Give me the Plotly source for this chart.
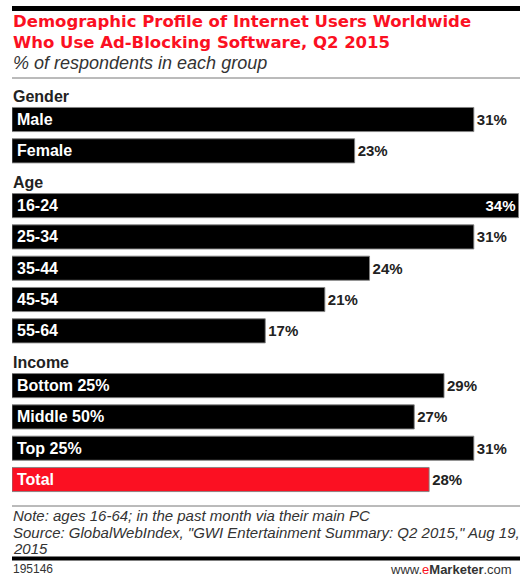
import plotly.graph_objects as go

# ---- data ----
groups = ["Gender", "Age", "Income", None]
group_items = [
    ["Male", "Female"],
    ["16-24", "25-34", "35-44", "45-54", "55-64"],
    ["Bottom 25%", "Middle 50%", "Top 25%"],
    ["Total"],
]
group_values = [
    [31, 23],
    [34, 31, 24, 21, 17],
    [29, 27, 31],
    [28],
]

title_line1 = "Demographic Profile of Internet Users Worldwide"
title_line2 = "Who Use Ad-Blocking Software, Q2 2015"
subtitle = "% of respondents in each group"
note = "Note: ages 16-64; in the past month via their main PC"
source1 = "Source: GlobalWebIndex, \"GWI Entertainment Summary: Q2 2015,\" Aug 19,"
source2 = "2015"
chart_id = "195146"

RED = "#fb1022"
DARK = "#222222"

# ---- layout of rows ----
labels, values, ypos, colors = [], [], [], []
headers = []
pos = 0.0
for gi, (g, items, vals) in enumerate(zip(groups, group_items, group_values)):
    if g is not None:
        if gi > 0:
            pos += 1.0
        headers.append((g, pos))
        pos += 0.75
    else:
        pos += 1.0
    for k, (it, v) in enumerate(zip(items, vals)):
        if k > 0:
            pos += 1.0
        labels.append(it)
        values.append(v)
        ypos.append(pos)
        colors.append(RED if g is None else "#000000")

vmax = max(values)
textpos = ["inside" if v >= vmax else "outside" for v in values]

W, H = 527, 577
L, R, T, B = 12, 7, 71, 74
plot_h = H - T - B
y_lo, y_hi = -0.8, 13.0


def py(p):
    return (H - B - p) / plot_h


LS = "Liberation Sans, Arial, sans-serif"
fig = go.Figure()
fig.add_trace(go.Bar(
    x=values, y=ypos, orientation="h",
    marker=dict(color=colors, line=dict(color="rgba(130,130,130,0.9)", width=1)),
    width=0.77,
    text=[f"{v}%" for v in values],
    textposition=textpos,
    insidetextanchor="end",
    insidetextfont=dict(family=LS, size=15, color="white", weight="bold"),
    outsidetextfont=dict(family=LS, size=15, color=DARK, weight="bold"),
    cliponaxis=False,
    hoverinfo="skip",
))

ann = []
for lab, y in zip(labels, ypos):
    ann.append(dict(x=0, y=y, xref="x", yref="y", text=lab, showarrow=False,
                    xanchor="left", yanchor="middle", xshift=3,
                    font=dict(family=LS, size=16, color="white", weight="bold")))
for g, y in headers:
    ann.append(dict(x=0, y=y, xref="x", yref="y", text=g, showarrow=False,
                    xanchor="left", yanchor="middle", xshift=-1,
                    font=dict(family=LS, size=16, color=DARK, weight="bold")))

ann += [
    dict(x=0, y=py(32), xref="paper", yref="paper",
         text=title_line1 + "<br>" + title_line2, showarrow=False, align="left",
         xanchor="left", yanchor="middle", xshift=-1,
         font=dict(family="DejaVu Sans, sans-serif", size=16.5, color=RED, weight="bold")),
    dict(x=0, y=py(63.5), xref="paper", yref="paper", text=subtitle, showarrow=False,
         xanchor="left", yanchor="middle", xshift=-1,
         font=dict(family=LS, size=18, color="#333333", style="italic")),
    dict(x=0, y=py(515), xref="paper", yref="paper", text=note, showarrow=False,
         xanchor="left", yanchor="middle", xshift=-1,
         font=dict(family=LS, size=15, color="#333333", style="italic")),
    dict(x=0, y=py(532), xref="paper", yref="paper", text=source1, showarrow=False,
         xanchor="left", yanchor="middle", xshift=-1,
         font=dict(family=LS, size=15, color="#333333", style="italic")),
    dict(x=0, y=py(548), xref="paper", yref="paper", text=source2, showarrow=False,
         xanchor="left", yanchor="middle", xshift=-1,
         font=dict(family=LS, size=15, color="#333333", style="italic")),
    dict(x=0, y=py(569), xref="paper", yref="paper", text=chart_id, showarrow=False,
         xanchor="left", yanchor="middle", xshift=-1,
         font=dict(family=LS, size=12, color="#333333")),
    dict(x=1, y=py(569), xref="paper", yref="paper",
         text="www.<span style='color:%s'>e</span><b>Marketer</b>.com" % RED,
         showarrow=False, xanchor="right", yanchor="middle", xshift=-6,
         font=dict(family=LS, size=13, color="#333333")),
]

shapes = [
    dict(type="line", xref="paper", yref="paper", x0=0, x1=1, y0=py(8.5), y1=py(8.5),
         line=dict(color="#000000", width=5)),
    dict(type="line", xref="paper", yref="paper", x0=0, x1=1, y0=py(78), y1=py(78),
         line=dict(color="#777777", width=1)),
    dict(type="line", xref="paper", yref="paper", x0=0, x1=1, y0=py(506), y1=py(506),
         line=dict(color="#777777", width=1)),
    dict(type="line", xref="paper", yref="paper", x0=0, x1=1, y0=py(558.5), y1=py(558.5),
         line=dict(color="#000000", width=4)),
]

fig.update_layout(
    width=W, height=H,
    margin=dict(l=L, r=R, t=T, b=B),
    paper_bgcolor="white", plot_bgcolor="white",
    showlegend=False,
    xaxis=dict(range=[0, 34.1], visible=False, fixedrange=True),
    yaxis=dict(range=[y_hi, y_lo], visible=False, fixedrange=True),
    annotations=ann, shapes=shapes,
    uniformtext=dict(minsize=8, mode="show"),
)

fig.write_html("out.html", config={"displayModeBar": False})
